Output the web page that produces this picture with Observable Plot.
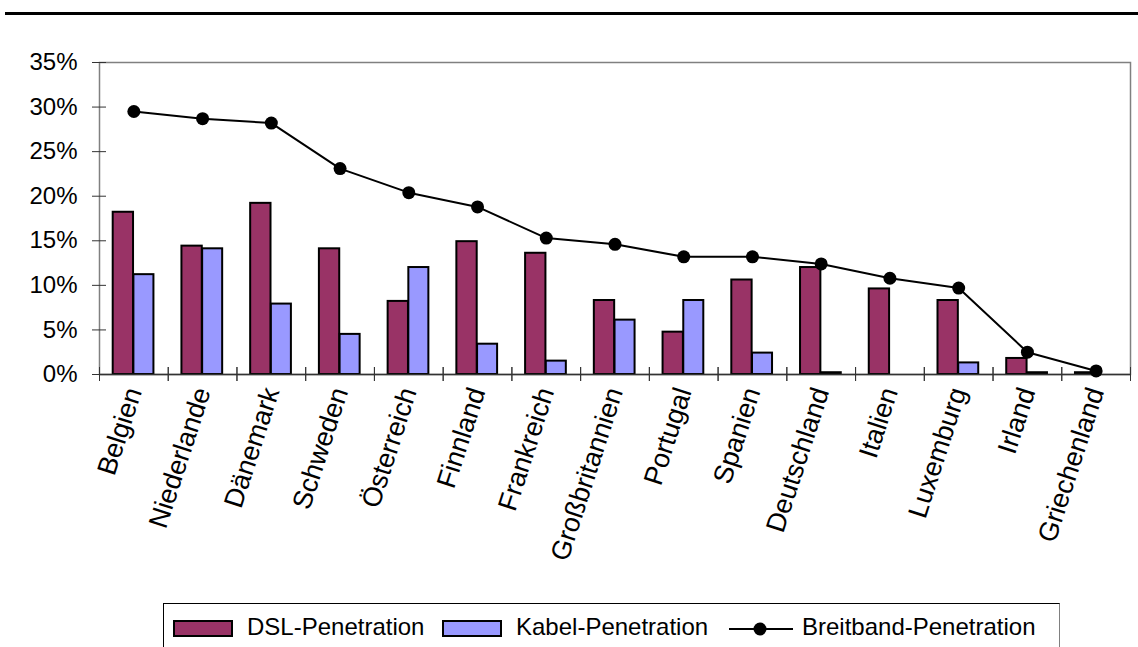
<!DOCTYPE html>
<html>
<head>
<meta charset="utf-8">
<script src="https://cdn.jsdelivr.net/npm/d3@7"></script>
<script src="https://cdn.jsdelivr.net/npm/@observablehq/plot@0.6"></script>
<style>
  html, body { margin: 0; padding: 0; background: #fff; }
  body { width: 1138px; height: 647px; overflow: hidden; position: relative; font-family: "Liberation Sans", Arial, sans-serif; }
  #topline { position: absolute; left: 5px; right: 0; top: 12px; height: 3px; background: #000; }
  #chart { position: absolute; left: 0; top: 0; }
  #legend { position: absolute; left: 163px; top: 603px; width: 897px; height: 60px; border: 1px solid #000; border-right-color: #808080; box-sizing: border-box; font-size: 24px; color: #000; }
  #legend .sw { position: absolute; top: 16px; width: 60px; height: 17px; box-sizing: border-box; border: 2px solid #000; }
  #legend .tx { position: absolute; top: 9px; line-height: 28px; white-space: nowrap; }
  #legend svg { position: absolute; top: 10px; }
</style>
</head>
<body>
<div id="topline"></div>
<div id="chart"></div>
<div id="legend"></div>
<script>
const countries = ["Belgien","Niederlande","Dänemark","Schweden","Österreich","Finnland","Frankreich","Großbritannien","Portugal","Spanien","Deutschland","Italien","Luxemburg","Irland","Griechenland"];
const dsl       = [18.2, 14.4, 19.2, 14.1, 8.2, 14.9, 13.6, 8.3, 4.75, 10.6, 12.0, 9.6, 8.3, 1.8, 0.2];
const kabel     = [11.2, 14.1, 7.9, 4.5, 12.0, 3.4, 1.5, 6.1, 8.3, 2.4, 0.2, 0, 1.3, 0.2, 0];
const breitband = [29.5, 28.7, 28.2, 23.1, 20.4, 18.8, 15.3, 14.6, 13.2, 13.2, 12.4, 10.8, 9.7, 2.5, 0.4];
const yTicks = [0, 5, 10, 15, 20, 25, 30, 35];
const seriesNames = ["DSL-Penetration", "Kabel-Penetration", "Breitband-Penetration"];
const colors = {dsl: "#993366", kabel: "#9999FF", line: "#000000"};

const data = countries.map((c, i) => ({country: c, dsl: dsl[i] / 100, kabel: kabel[i] / 100, breitband: breitband[i] / 100}));
const yTickVals = yTicks.map(v => v / 100);
const font = "Liberation Sans, Arial, sans-serif";

const half = (1130 - 99) / countries.length / 2;

const chart = Plot.plot({
  width: 1138,
  height: 600,
  marginLeft: 99,
  marginRight: 8,
  marginTop: 62,
  marginBottom: 226,
  style: {fontFamily: font, background: "transparent", overflow: "visible"},
  x: {type: "band", domain: countries, padding: 0, round: false},
  y: {domain: [0, 0.35]},
  marks: [
    Plot.frame({stroke: "#808080", strokeWidth: 1.5}),
    Plot.barY(data, {x: "country", y: "dsl", fill: colors.dsl, stroke: "#000", strokeWidth: 2, insetLeft: 13.7, insetRight: 34.7}),
    Plot.barY(data.filter(d => d.kabel > 0), {x: "country", y: "kabel", fill: colors.kabel, stroke: "#000", strokeWidth: 2, insetLeft: 34.4, insetRight: 14.3}),
    Plot.ruleY([0], {stroke: "#333", strokeWidth: 1.5}),
    Plot.axisY({anchor: "left", ticks: yTickVals, tickSize: 7, tickPadding: 15, tickFormat: d => Math.round(d * 100) + "%", fontSize: 24, stroke: "#333", line: true, label: null, color: "#000"}),
    Plot.axisY({anchor: "left", ticks: yTickVals, tickSize: -7, text: null, stroke: "#333", label: null}),
    Plot.axisX({anchor: "bottom", tickSize: 7, text: null, dx: -half, stroke: "#333", label: null}),
    Plot.axisX({anchor: "bottom", tickSize: -7, text: null, dx: -half, stroke: "#333", label: null}),
    Plot.axisX({anchor: "bottom", tickSize: 7, text: null, dx: half, stroke: "#333", label: null}),
    Plot.axisX({anchor: "bottom", tickSize: -7, text: null, dx: half, stroke: "#333", label: null}),
    Plot.axisX({anchor: "bottom", tickSize: 0, tickPadding: 14, tickRotate: -72, fontSize: 27, label: null, color: "#000"}),
    Plot.line(data, {x: "country", y: "breitband", stroke: colors.line, strokeWidth: 2}),
    Plot.dot(data, {x: "country", y: "breitband", r: 6.5, fill: colors.line, stroke: "none"})
  ]
});
document.getElementById("chart").appendChild(chart);

// legend
const lg = document.getElementById("legend");
lg.innerHTML = `
  <div class="sw" style="left:9px;background:${colors.dsl}"></div>
  <div class="tx" style="left:83px">${seriesNames[0]}</div>
  <div class="sw" style="left:278px;background:${colors.kabel}"></div>
  <div class="tx" style="left:352px">${seriesNames[1]}</div>
  <svg width="66" height="30" style="left:564px"><line x1="1" x2="65" y1="15" y2="15" stroke="#000" stroke-width="2"/><circle cx="32" cy="15" r="6.5" fill="#000"/></svg>
  <div class="tx" style="left:638px">${seriesNames[2]}</div>
`;
</script>
</body>
</html>
